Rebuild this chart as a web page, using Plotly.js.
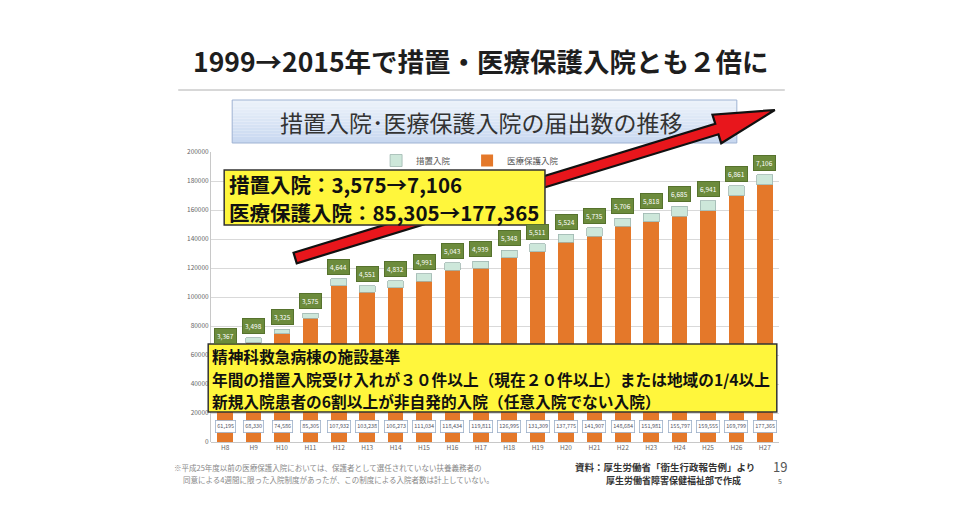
<!DOCTYPE html>
<html><head><meta charset="utf-8">
<script src="https://cdn.plot.ly/plotly-3.0.1.min.js"></script>
<style>html,body{margin:0;padding:0;background:#fff}#chart{width:980px;height:515px}</style>
</head><body><div id="chart"></div>
<script>
const years = ['H8','H9','H10','H11','H12','H13','H14','H15','H16','H17','H18','H19','H20','H21','H22','H23','H24','H25','H26','H27'];
const hogo = [61195,68330,74586,85305,107932,103238,106273,111034,118434,119811,126995,131309,137775,141907,148684,151981,155797,159555,169799,177365];
const sochi = [3367,3498,3325,3575,4644,4551,4832,4991,5043,4939,5348,5511,5524,5735,5706,5818,6685,6941,6861,7106];
const yTicks = [0,20000,40000,60000,80000,100000,120000,140000,160000,180000,200000];

const FONT = '"Noto Sans CJK JP", "Noto Sans", sans-serif';
const L = 210.8, R = 779.2, T = 152, B = 442;
const px = x => (x - L) / (R - L);
const py = y => (B - y) / (B - T);
const fmt = v => v.toLocaleString('en-US');

const data = [
  {type:'bar', name:'医療保護入院', x:years, y:hogo, width:0.55,
   marker:{color:'#E4782A', line:{color:'#E4782A', width:0}}, hoverinfo:'skip'},
  {type:'bar', name:'措置入院', x:years, y:sochi, width:0.55,
   marker:{color:'#CDE7DA', line:{color:'#9FB7B0', width:0.8}}, hoverinfo:'skip'}
];

const ann = [];
const shapes = [];
function txt(x, y, t, font, xa) {
  ann.push({xref:'paper', yref:'paper', x:px(x), y:py(y), xanchor:xa || 'center', yanchor:'middle',
    text:t, showarrow:false, font:Object.assign({family:FONT}, font)});
}

// title
txt(481, 60, '1999→2015年で措置・医療保護入院とも２倍に', {size:26.5, color:'#1e1e1e', weight:700});
shapes.push({type:'line', xref:'paper', yref:'paper', x0:px(178), x1:px(785), y0:py(90), y1:py(90), line:{color:'#b0b0b0', width:1}});

// subtitle box with gradient
const n = 14, sx0 = 232, sx1 = 737, sy0 = 100, sy1 = 143;
for (let i = 0; i < n; i++) {
  const t = i / (n - 1);
  const r = Math.round(236 - 36 * t), g = Math.round(242 - 26 * t), b = Math.round(250 - 10 * t);
  shapes.push({type:'rect', xref:'paper', yref:'paper', x0:px(sx0), x1:px(sx1),
    y0:py(sy0 + (sy1 - sy0) * i / n), y1:py(sy0 + (sy1 - sy0) * (i + 1) / n),
    fillcolor:`rgb(${r},${g},${b})`, line:{width:0}, layer:'above'});
}
shapes.push({type:'rect', xref:'paper', yref:'paper', x0:px(sx0), x1:px(sx1), y0:py(sy0), y1:py(sy1),
  fillcolor:'rgba(0,0,0,0)', line:{color:'#9fb3d3', width:1}, layer:'above'});
txt(481, 122, '措置入院･医療保護入院の届出数の推移', {size:23, color:'#333'});

// red arrow (decoration)
const arrowPts = [[293.4,252.7],[715.4,123.7],[712.6,114.7],[775,110],[721.4,143.3],[718.6,134.3],[296.6,263.3]];
const path = 'M ' + arrowPts.map(p => px(p[0]).toFixed(5) + ',' + py(p[1]).toFixed(5)).join(' L ') + ' Z';
shapes.push({type:'path', xref:'paper', yref:'paper', path:path, fillcolor:'#E8161C', line:{color:'#111', width:2.2}, layer:'above'});

// yellow boxes
shapes.push({type:'rect', xref:'paper', yref:'paper', x0:px(224), x1:px(545), y0:py(170), y1:py(225),
  fillcolor:'#FFF63C', line:{color:'#333', width:1.5}, layer:'above'});
shapes.push({type:'rect', xref:'paper', yref:'paper', x0:px(208), x1:px(777), y0:py(344), y1:py(412),
  fillcolor:'#FFF63C', line:{color:'#333', width:1.5}, layer:'above'});

const box1 = ['措置入院：3,575→7,106', '医療保護入院：85,305→177,365'];
const box1y = [184, 212];
box1.forEach((t, i) => txt(227, box1y[i], t, {size:20.5, color:'#111', weight:700}, 'left'));

const box2 = ['精神科救急病棟の施設基準', '年間の措置入院受け入れが３０件以上（現在２０件以上）または地域の1/4以上', '新規入院患者の6割以上が非自発的入院（任意入院でない入院）'];
const box2y = [356, 379, 401];
box2.forEach((t, i) => txt(210, box2y[i], t, {size:15.7, color:'#111', weight:700}, 'left'));

// value labels
years.forEach((c, i) => {
  ann.push({x:c, y:hogo[i] + sochi[i], yshift:12, yanchor:'middle', text:fmt(sochi[i]), showarrow:false,
    bgcolor:'#6C8B3C', bordercolor:'#56722d', borderwidth:1, borderpad:2,
    font:{family:FONT, size:6.5, color:'#fff'}});
  ann.push({x:c, y:11000, yanchor:'middle', text:fmt(hogo[i]), showarrow:false,
    bgcolor:'#fff', bordercolor:'#9db0c8', borderwidth:0.8, borderpad:1.5,
    font:{family:FONT, size:5.5, color:'#556'}});
});

// footnotes
txt(172, 467, '※平成25年度以前の医療保護入院においては、保護者として選任されていない扶養義務者の', {size:7.5, color:'#888'}, 'left');
txt(181, 479, '同意による4週間に限った入院制度があったが、この制度による入院者数は計上していない。', {size:7.5, color:'#888'}, 'left');
txt(757, 467, '資料：厚生労働省「衛生行政報告例」より', {size:9.5, color:'#333', weight:700}, 'right');
txt(743, 480, '厚生労働省障害保健福祉部で作成', {size:9, color:'#333', weight:700}, 'right');
txt(780, 466, '19', {size:13, color:'#555'});
txt(780, 481, '5', {size:7, color:'#555'});

const layout = {
  width:980, height:515, paper_bgcolor:'#fff', plot_bgcolor:'#fff',
  margin:{l:L, r:980 - R, t:T, b:515 - B, pad:0},
  barmode:'stack', bargap:0.45,
  font:{family:FONT},
  showlegend:true,
  legend:{orientation:'h', x:px(376), y:py(146), xanchor:'left', yanchor:'top', traceorder:'reversed',
    font:{family:FONT, size:8.5, color:'#555'}, bgcolor:'rgba(0,0,0,0)', itemwidth:30,
    entrywidth:46, entrywidthmode:'pixels'},
  xaxis:{type:'category', tickfont:{family:FONT, size:6.5, color:'#666'}, showgrid:false, ticks:'',
    showline:false, fixedrange:true},
  yaxis:{range:[0,200000], tickvals:yTicks, ticktext:yTicks.map(String), tickfont:{family:FONT, size:6.5, color:'#666'},
    gridcolor:'#d9d9d9', gridwidth:1, showline:true, linecolor:'#c8c8c8', ticks:'', zeroline:true, zerolinecolor:'#c8c8c8', fixedrange:true},
  annotations:ann, shapes:shapes
};
Plotly.newPlot('chart', data, layout, {displayModeBar:false, staticPlot:true});
</script></body></html>
